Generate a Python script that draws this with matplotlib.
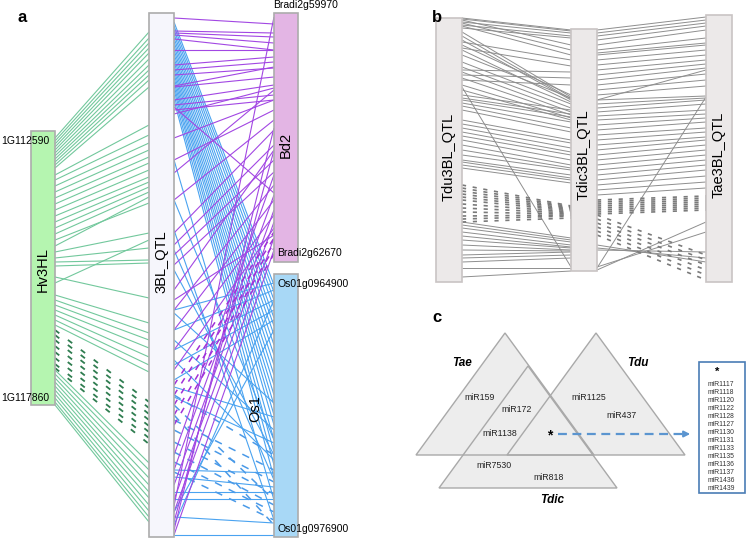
import matplotlib
matplotlib.use('Agg')
import matplotlib.pyplot as plt
from matplotlib.patches import Rectangle, Polygon
from matplotlib.collections import LineCollection

plt.rcParams['font.family'] = ['Liberation Sans', 'DejaVu Sans']

# ---------------- data ----------------
# link positions = distance from the top of each chromosome (chromosome units)
hv_len, qtl_len, bd_len, os_len = 274, 524, 249, 263

hv_qtl_solid = [(7, 19), (10, 25), (13, 30), (16, 35), (19, 40), (22, 46), (25, 52), (28, 57),
                (31, 62), (34, 67), (37, 74), (44, 112), (49, 122), (55, 130), (61, 137), (67, 144),
                (73, 150), (79, 157), (85, 164), (91, 169), (97, 174), (103, 179), (109, 190), (115, 184),
                (121, 220), (127, 235), (131, 247), (135, 250), (152, 227), (146, 285), (164, 310),
                (169, 320), (174, 327), (179, 335), (184, 344), (189, 352), (194, 359),
                (239, 450), (243, 457), (247, 465), (251, 472), (255, 479), (259, 485), (263, 492),
                (267, 498), (271, 504), (274, 509)]
hv_qtl_dashed = [(199, 389), (204, 395), (209, 401), (215, 407), (221, 413), (227, 419), (233, 425), (237, 431)]

qtl_bd_solid = [(5, 11), (18, 20), (20, 24), (22, 30), (26, 37), (37, 37), (52, 44), (57, 49), (62, 55),
                (73, 54), (74, 64), (87, 72), (92, 82), (97, 87), (101, 75), (94, 180), (125, 87), (160, 77),
                (147, 97), (187, 107), (220, 117), (232, 132), (242, 147), (252, 159), (277, 137), (297, 172),
                (317, 187), (337, 202), (357, 215), (442, 162), (457, 182), (472, 197), (487, 209), (499, 225),
                (509, 137), (517, 115), (493, 4), (522, 237), (287, 222)]
qtl_bd_dashed = [(372, 219), (382, 225), (392, 230), (402, 235), (412, 241)]

qtl_os_solid = [(9, 11), (13, 18), (17, 26), (21, 34), (25, 44), (29, 52), (33, 61), (37, 71), (41, 81),
                (45, 91), (49, 101), (53, 111), (57, 121), (61, 131), (65, 141), (69, 151), (73, 166), (77, 178),
                (82, 191), (87, 204), (147, 226), (187, 166), (217, 246), (237, 206), (257, 181), (297, 9),
                (317, 16), (337, 26), (352, 36), (367, 46), (374, 143), (384, 169), (300, 129), (327, 156),
                (347, 186), (457, 199), (464, 213), (479, 218), (486, 225), (504, 249), (522, 261), (499, 56),
                (512, 26)]
qtl_os_dashed = [(407, 196), (417, 208), (429, 220), (439, 231), (449, 238), (459, 246), (392, 226),
                 (402, 251), (382, 181)]

tdu_len, tdic_len, tae_len = 264, 242, 267
tdu_tdic_solid = [(0, 1), (1, 2), (4, 4), (7, 7), (10, 9), (2, 16), (5, 21), (8, 26), (14, 68), (18, 70),
                  (22, 71), (27, 66), (32, 73), (37, 69), (24, 31), (30, 37), (44, 75), (49, 79), (54, 83),
                  (60, 86), (67, 89), (72, 91), (52, 43), (57, 49), (62, 56), (77, 81), (80, 85), (82, 88),
                  (85, 93), (88, 99), (92, 103), (102, 111), (106, 114), (110, 119), (114, 123), (118, 126),
                  (122, 131), (127, 136), (132, 139), (137, 141), (142, 146), (144, 149), (147, 151),
                  (150, 154), (69, 238), (204, 209), (207, 211), (210, 213), (214, 216), (218, 218),
                  (222, 219), (227, 221), (232, 222), (237, 223), (240, 226), (244, 229), (250, 239), (259, 242)]
tdu_tdic_dashed = [(167, 177), (170, 178), (173, 179), (176, 180), (179, 181), (182, 182), (186, 183),
                   (190, 184), (194, 185), (198, 186), (201, 187), (204, 189)]

tdic_tae_solid = [(1, 2), (4, 5), (7, 8), (11, 11), (16, 15), (21, 23), (24, 28), (26, 30), (31, 35), (36, 40),
                  (41, 45), (46, 49), (51, 53), (56, 59), (61, 65), (66, 71), (71, 55), (71, 81), (75, 83),
                  (79, 85), (83, 89), (87, 95), (91, 99), (96, 103), (101, 107), (106, 113), (111, 117),
                  (116, 122), (121, 125), (126, 130), (131, 135), (136, 140), (141, 145), (146, 150),
                  (151, 155), (156, 161), (161, 167), (166, 173), (239, 82), (219, 243), (216, 247),
                  (238, 217), (241, 207), (221, 237)]
tdic_tae_dashed = [(171, 181), (173, 183), (175, 185), (177, 187), (179, 189), (181, 191), (183, 193),
                   (185, 195), (186, 240), (190, 245), (194, 250), (198, 255), (202, 260), (206, 265)]

venn_labels = ['miR159', 'miR172', 'miR1138', 'miR1125', 'miR437', 'miR7530', 'miR818']
star_list = ['miR1117', 'miR1118', 'miR1120', 'miR1122', 'miR1128', 'miR1127', 'miR1130',
             'miR1131', 'miR1133', 'miR1135', 'miR1136', 'miR1137', 'miR1436', 'miR1439']

# ---------------- layout ----------------
fig = plt.figure(figsize=(7.46, 5.39), dpi=100)
ax = fig.add_axes([0, 0, 1, 1])
ax.set_xlim(0, 746)
ax.set_ylim(539, 0)
ax.axis('off')

hv = dict(x=31, top=131, w=24, h=274, n=hv_len, fc='#b5f5b0')
qtl = dict(x=149, top=13, w=25, h=524, n=qtl_len, fc='#f6f6fc')
bd = dict(x=274, top=13, w=24, h=249, n=bd_len, fc='#e3b5e4')
os1 = dict(x=274, top=274, w=24, h=263, n=os_len, fc='#a8d8f6')
tdu = dict(x=436, top=18, w=26, h=264, n=tdu_len, fc='#ece9e9')
tdic = dict(x=571, top=29, w=26, h=242, n=tdic_len, fc='#ece9e9')
tae = dict(x=706, top=15, w=26, h=267, n=tae_len, fc='#ece9e9')


def links(pairs, a, b, **kw):
    xa = a['x'] + a['w']
    xb = b['x']
    segs = [[(xa, a['top'] + p * a['h'] / a['n']), (xb, b['top'] + q * b['h'] / b['n'])] for p, q in pairs]
    ax.add_collection(LineCollection(segs, zorder=1, **kw))


def bar(c, edge='#acacac'):
    ax.add_patch(Rectangle((c['x'], c['top']), c['w'], c['h'], fc=c['fc'], ec=edge, lw=1.2, zorder=3))


# panel a
links(hv_qtl_solid, hv, qtl, colors='#72c89c', linewidths=0.8)
links(hv_qtl_dashed, hv, qtl, colors='#2f7d50', linewidths=1.3, linestyles=[(0, (3, 6))])
links(qtl_os_solid, qtl, os1, colors='#4aa3f0', linewidths=0.8)
links(qtl_os_dashed, qtl, os1, colors='#4a9ae8', linewidths=1.1, linestyles=[(0, (5, 5))])
links(qtl_bd_solid, qtl, bd, colors='#a247e3', linewidths=0.8)
links(qtl_bd_dashed, qtl, bd, colors='#a030d8', linewidths=1.1, linestyles=[(0, (4, 5))])
for c in (hv, qtl, bd, os1):
    bar(c)

rot = dict(rotation=90, ha='center', va='center', fontsize=10.5, zorder=5)
ax.text(43, 270, 'Hv3HL', **rot)
ax.text(161.5, 262, '3BL_QTL', **rot)
ax.text(286, 145, 'Bd2', **rot)
ax.text(255, 409, 'Os1', **rot)

gl = dict(fontsize=7.5, va='center', zorder=5)
ax.text(273, 5, 'Bradi2g59970', ha='left', **gl)
ax.text(277, 253, 'Bradi2g62670', ha='left', **gl)
ax.text(278, 284, 'Os01g0964900', ha='left', **gl)
ax.text(278, 529, 'Os01g0976900', ha='left', **gl)
ax.text(1, 141, '1G112590', ha='left', **gl)
ax.text(1, 398, '1G117860', ha='left', **gl)

# panel b
links(tdu_tdic_solid, tdu, tdic, colors='#8e8e8e', linewidths=0.7)
links(tdu_tdic_dashed, tdu, tdic, colors='#7a7a7a', linewidths=1.2, linestyles=[(0, (2.5, 4))])
links(tdic_tae_solid, tdic, tae, colors='#8e8e8e', linewidths=0.7)
links(tdic_tae_dashed, tdic, tae, colors='#7a7a7a', linewidths=1.2, linestyles=[(0, (2.5, 4))])
for c in (tdu, tdic, tae):
    bar(c, edge='#c9c4c4')
ax.text(449, 157, 'Tdu3BL_QTL', **rot)
ax.text(584, 155, 'Tdic3BL_QTL', **rot)
ax.text(719, 155, 'Tae3BL_QTL', **rot)

# panel c: triangles
half_w, tri_h = 89, 122
apexes = {'Tae': (505, 333), 'Tdu': (596, 333), 'Tdic': (528, 366)}
for ax_, ay in apexes.values():
    ax.add_patch(Polygon([(ax_, ay), (ax_ - half_w, ay + tri_h), (ax_ + half_w, ay + tri_h)],
                         closed=True, fc='#ededed', ec='none', zorder=1))
for ax_, ay in apexes.values():
    ax.add_patch(Polygon([(ax_, ay), (ax_ - half_w, ay + tri_h), (ax_ + half_w, ay + tri_h)],
                         closed=True, fill=False, ec='#a9a9a9', lw=1.0, zorder=2))

sp = dict(fontsize=8.5, fontweight='bold', fontstyle='italic', ha='center', va='center')
ax.text(462, 363, 'Tae', **sp)
ax.text(638, 363, 'Tdu', **sp)
ax.text(552, 500, 'Tdic', **sp)

venn_pos = [(480, 398), (517, 410), (500, 434), (589, 398), (622, 415), (494, 466), (549, 478)]
for lab, (x, y) in zip(venn_labels, venn_pos):
    ax.text(x, y, lab, fontsize=6.3, ha='center', va='center', color='#222222')
ax.text(550, 435, '*', fontsize=10, ha='center', va='center', fontweight='bold')

ax.plot([558, 686], [434, 434], color='#5b95d0', lw=1.6, ls=(0, (4, 2.5)))
ax.annotate('', xy=(693, 434), xytext=(683, 434),
            arrowprops=dict(arrowstyle='-|>', color='#5b95d0', lw=1.4, mutation_scale=9))

ax.add_patch(Rectangle((698.5, 362), 46.5, 131, fc='white', ec='#4a7db5', lw=1.2, zorder=2))
ax.text(717, 372, '*', fontsize=8, ha='center', va='center', fontweight='bold', zorder=3)
for i, lab in enumerate(star_list):
    ax.text(721, 384 + i * 8.0, lab, fontsize=4.9, ha='center', va='center', color='#333333', zorder=3)

pl = dict(fontsize=12, fontweight='bold', ha='center', va='center')
ax.text(22, 17, 'a', **pl)
ax.text(437, 17, 'b', **pl)
ax.text(437, 318, 'c', **pl)

fig.savefig('out.png', dpi=100)
